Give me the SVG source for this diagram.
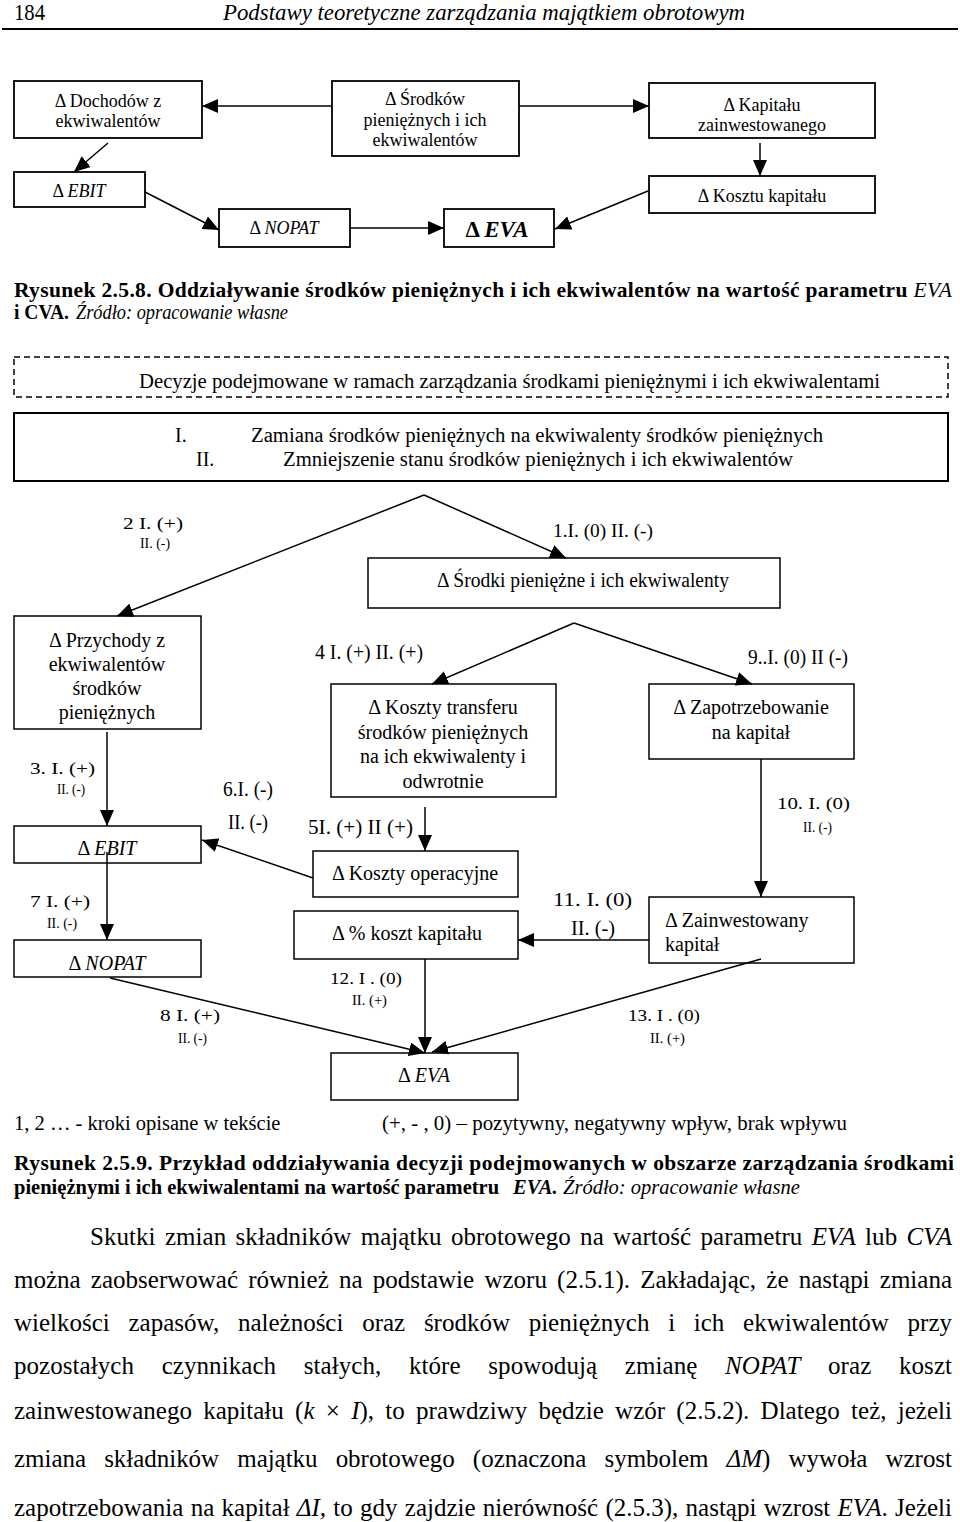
<svg xmlns="http://www.w3.org/2000/svg" width="960" height="1522" viewBox="0 0 960 1522">
<defs>
<marker id="ah" markerUnits="userSpaceOnUse" markerWidth="16" markerHeight="14" refX="16" refY="7" orient="auto"><path d="M0,0 L16,7 L0,14 z" fill="#000"/></marker>
</defs>
<style>
text{font-family:'Liberation Serif','Times New Roman',serif;fill:#000}
.box{fill:#fff;stroke:#000;stroke-width:1.8}
.bx2{fill:#fff;stroke:#000;stroke-width:1.5}
.c{fill:none;stroke:#000;stroke-width:1.5;marker-end:url(#ah)}
.d1{font-size:18px;text-anchor:middle}
.d2{font-size:20px;text-anchor:middle}
.l2{font-size:20px}
.lb{font-size:17px}
.ls{font-size:15px}
.lg{font-size:19.5px}
.i{font-style:italic}
.b{font-weight:bold}
.cap{font-size:21.5px}
.cap2{font-size:20.5px}
.p{font-size:25px}
</style>
<rect width="960" height="1522" fill="#fff"/>

<g id="header">
<text x="14" y="20" font-size="24" textLength="31" lengthAdjust="spacingAndGlyphs">184</text>
<text x="223" y="20" font-size="24" class="i" textLength="522" lengthAdjust="spacingAndGlyphs">Podstawy teoretyczne zarządzania majątkiem obrotowym</text>
<line x1="2" y1="29" x2="958" y2="29" stroke="#000" stroke-width="2"/>
</g>

<!-- Figure 2.5.8 -->
<g id="n-dochodow"><rect class="box" x="14" y="81" width="188" height="57"/>
<text class="d1" x="108" y="107">Δ Dochodów z</text><text class="d1" x="108" y="127">ekwiwalentów</text></g>
<g id="n-srodkow"><rect class="box" x="332" y="81" width="187" height="75"/>
<text class="d1" x="425" y="105">Δ Środków</text><text class="d1" x="425" y="126">pieniężnych i ich</text><text class="d1" x="425" y="146">ekwiwalentów</text></g>
<g id="n-kapitalu"><rect class="box" x="649" y="83" width="226" height="55"/>
<text class="d1" x="762" y="111">Δ Kapitału</text><text class="d1" x="762" y="131">zainwestowanego</text></g>
<g id="n-ebit1"><rect class="box" x="14" y="172" width="131" height="35"/>
<text class="d1" x="79" y="197">Δ <tspan class="i">EBIT</tspan></text></g>
<g id="n-nopat1"><rect class="box" x="219" y="209" width="131" height="38"/>
<text class="d1" x="284" y="234">Δ <tspan class="i">NOPAT</tspan></text></g>
<g id="n-eva1"><rect class="box" x="444" y="209" width="110" height="38"/>
<text x="497" y="237" font-size="23" class="b" text-anchor="middle">Δ <tspan class="i">EVA</tspan></text></g>
<g id="n-kosztu"><rect class="box" x="649" y="176" width="226" height="37"/>
<text class="d1" x="762" y="202">Δ Kosztu kapitału</text></g>

<g id="connectors1">
<path class="c" d="M332,106 L202,106"/>
<path class="c" d="M519,106 L649,106"/>
<path class="c" d="M108,143 L74,172"/>
<path class="c" d="M760,143 L760,176"/>
<path class="c" d="M145,192 L219,230"/>
<path class="c" d="M350,228 L444,228"/>
<path class="c" d="M648,191 L555,229"/>
</g>

<g id="caption1">
<text class="cap" x="14" y="297" textLength="938" lengthAdjust="spacing"><tspan class="b">Rysunek 2.5.8. Oddziaływanie środków pieniężnych i ich ekwiwalentów na wartość parametru </tspan><tspan class="i">EVA</tspan></text>
<text class="cap b" x="14" y="319" textLength="55" lengthAdjust="spacingAndGlyphs">i CVA.</text>
<text class="cap i" x="76" y="319" textLength="212" lengthAdjust="spacingAndGlyphs">Źródło: opracowanie własne</text>
</g>

<!-- Figure 2.5.9 -->
<g id="n-decyzje"><rect x="14" y="357" width="934" height="40" fill="none" stroke="#000" stroke-width="1.5" stroke-dasharray="6,4"/>
<text x="139" y="388" font-size="20.5" textLength="741" lengthAdjust="spacingAndGlyphs">Decyzje podejmowane w ramach zarządzania środkami pieniężnymi i ich ekwiwalentami</text></g>
<g id="n-warianty"><rect x="14" y="413" width="934" height="68" fill="#fff" stroke="#000" stroke-width="2"/>
<text x="175" y="442" font-size="20">I.</text>
<text x="251" y="442" font-size="20" textLength="572" lengthAdjust="spacingAndGlyphs">Zamiana środków pieniężnych na ekwiwalenty środków pieniężnych</text>
<text x="196" y="466" font-size="20">II.</text>
<text x="283" y="466" font-size="20" textLength="510" lengthAdjust="spacingAndGlyphs">Zmniejszenie stanu środków pieniężnych i ich ekwiwalentów</text></g>

<g id="n-srodki"><rect class="bx2" x="368" y="558" width="412" height="50"/>
<text class="d2" x="583" y="587" textLength="292" lengthAdjust="spacingAndGlyphs">Δ Środki pieniężne i ich ekwiwalenty</text></g>
<g id="n-przychody"><rect class="bx2" x="14" y="616" width="187" height="113"/>
<text class="d2" x="107" y="647">Δ Przychody z</text><text class="d2" x="107" y="671">ekwiwalentów</text><text class="d2" x="107" y="695">środków</text><text class="d2" x="107" y="719">pieniężnych</text></g>
<g id="n-transfer"><rect class="bx2" x="331" y="684" width="225" height="113"/>
<text class="d2" x="443" y="714">Δ Koszty transferu</text><text class="d2" x="443" y="739">środków pieniężnych</text><text class="d2" x="443" y="763">na ich ekwiwalenty i</text><text class="d2" x="443" y="788">odwrotnie</text></g>
<g id="n-zapotrzebowanie"><rect class="bx2" x="649" y="684" width="205" height="75"/>
<text class="d2" x="751" y="714">Δ Zapotrzebowanie</text><text class="d2" x="751" y="739">na kapitał</text></g>
<g id="n-ebit2"><rect class="bx2" x="14" y="826" width="187" height="37"/>
<text class="d2" x="107" y="855">Δ <tspan class="i">EBIT</tspan></text></g>
<g id="n-operacyjne"><rect class="bx2" x="313" y="851" width="205" height="46"/>
<text class="d2" x="415" y="880">Δ Koszty operacyjne</text></g>
<g id="n-proc"><rect class="bx2" x="294" y="911" width="224" height="48"/>
<text class="d2" x="407" y="940">Δ % koszt kapitału</text></g>
<g id="n-zainwestowany"><rect class="bx2" x="649" y="897" width="205" height="66"/>
<text class="l2" x="665" y="927">Δ Zainwestowany</text><text class="l2" x="665" y="951">kapitał</text></g>
<g id="n-nopat2"><rect class="bx2" x="14" y="940" width="187" height="37"/>
<text class="d2" x="107" y="970">Δ <tspan class="i">NOPAT</tspan></text></g>
<g id="n-eva2"><rect class="bx2" x="331" y="1053" width="187" height="47"/>
<text class="d2" x="424" y="1082">Δ <tspan class="i">EVA</tspan></text></g>

<g id="connectors2">
<path class="c" d="M424,495 L117,616"/>
<path class="c" d="M424,495 L566,558"/>
<path class="c" d="M574,623 L432,684"/>
<path class="c" d="M574,623 L752,684"/>
<path class="c" d="M107,732 L107,826"/>
<path class="c" d="M107,852 L107,940"/>
<path class="c" d="M425,807 L425,851"/>
<path class="c" d="M313,878 L202,840"/>
<path class="c" d="M110,978 L425,1053"/>
<path class="c" d="M425,959 L425,1053"/>
<path class="c" d="M761,959 L432,1052"/>
<path class="c" d="M761,759 L761,897"/>
<path class="c" d="M649,940 L518,940"/>
</g>

<g id="labels">
<text class="lb" x="123" y="529" textLength="60" lengthAdjust="spacingAndGlyphs">2 I.  (+)</text>
<text class="ls" x="140" y="548" textLength="30" lengthAdjust="spacingAndGlyphs">II. (-)</text>
<text class="lg" x="553" y="537" textLength="100" lengthAdjust="spacingAndGlyphs">1.I. (0) II. (-)</text>
<text class="lb" x="30" y="774" textLength="65" lengthAdjust="spacingAndGlyphs">3. I.  (+)</text>
<text class="ls" x="57" y="794" textLength="28" lengthAdjust="spacingAndGlyphs">II. (-)</text>
<text class="l2" x="315" y="659" textLength="108" lengthAdjust="spacingAndGlyphs">4 I. (+) II. (+)</text>
<text class="l2" x="308" y="834" textLength="105" lengthAdjust="spacingAndGlyphs">5I. (+) II (+)</text>
<text class="l2" x="223" y="796" textLength="50" lengthAdjust="spacingAndGlyphs">6.I. (-)</text>
<text class="l2" x="228" y="829" textLength="40" lengthAdjust="spacingAndGlyphs">II. (-)</text>
<text class="lb" x="30" y="907" textLength="60" lengthAdjust="spacingAndGlyphs">7 I.  (+)</text>
<text class="ls" x="47" y="928" textLength="30" lengthAdjust="spacingAndGlyphs">II. (-)</text>
<text class="lb" x="160" y="1021" textLength="60" lengthAdjust="spacingAndGlyphs">8 I.  (+)</text>
<text class="ls" x="178" y="1043" textLength="29" lengthAdjust="spacingAndGlyphs">II. (-)</text>
<text class="l2" x="748" y="664" textLength="100" lengthAdjust="spacingAndGlyphs">9..I. (0) II (-)</text>
<text class="lb" x="777" y="809" textLength="73" lengthAdjust="spacingAndGlyphs">10. I.  (0)</text>
<text class="ls" x="803" y="832" textLength="29" lengthAdjust="spacingAndGlyphs">II. (-)</text>
<text class="lg" x="553" y="906" textLength="79" lengthAdjust="spacingAndGlyphs">11. I. (0)</text>
<text class="l2" x="571" y="935" textLength="44" lengthAdjust="spacingAndGlyphs">II. (-)</text>
<text class="lb" x="330" y="984" textLength="72" lengthAdjust="spacingAndGlyphs">12. I . (0)</text>
<text class="ls" x="352" y="1005" textLength="35" lengthAdjust="spacingAndGlyphs">II. (+)</text>
<text class="lb" x="628" y="1021" textLength="72" lengthAdjust="spacingAndGlyphs">13. I . (0)</text>
<text class="ls" x="650" y="1043" textLength="35" lengthAdjust="spacingAndGlyphs">II. (+)</text>
</g>

<g id="legend">
<text x="14" y="1130" font-size="20.5">1, 2 … - kroki opisane w tekście</text>
<text x="382" y="1130" font-size="20.5" textLength="465" lengthAdjust="spacingAndGlyphs">(+, - , 0) – pozytywny, negatywny wpływ, brak wpływu</text>
</g>

<g id="caption2">
<text class="cap" x="14" y="1170" textLength="940" lengthAdjust="spacing"><tspan class="b">Rysunek 2.5.9. Przykład oddziaływania decyzji podejmowanych w obszarze zarządzania środkami</tspan></text>
<text class="cap2 b" x="14" y="1194">pieniężnymi i ich ekwiwalentami na wartość parametru</text>
<text class="cap2 b i" x="513" y="1194">EVA.</text>
<text class="cap2 i" x="563" y="1194">Źródło: opracowanie własne</text>
</g>

<g id="paragraph">
<text class="p" x="90" y="1245" word-spacing="3" textLength="862" lengthAdjust="spacing">Skutki zmian składników majątku obrotowego na wartość parametru <tspan class="i">EVA</tspan> lub <tspan class="i">CVA</tspan></text>
<text class="p" x="14" y="1288" word-spacing="4" textLength="938" lengthAdjust="spacing">można zaobserwować również na podstawie wzoru (2.5.1). Zakładając, że nastąpi zmiana</text>
<text class="p" x="14" y="1331" word-spacing="12.5" textLength="938" lengthAdjust="spacing">wielkości zapasów, należności oraz środków pieniężnych i ich ekwiwalentów przy</text>
<text class="p" x="14" y="1374" word-spacing="21.4" textLength="938" lengthAdjust="spacing">pozostałych czynnikach stałych, które spowodują zmianę <tspan class="i">NOPAT</tspan> oraz koszt</text>
<text class="p" x="14" y="1419" word-spacing="5" textLength="938" lengthAdjust="spacing">zainwestowanego kapitału (<tspan class="i">k</tspan> × <tspan class="i">I</tspan>), to prawdziwy będzie wzór (2.5.2). Dlatego też, jeżeli</text>
<text class="p" x="14" y="1467" word-spacing="11.9" textLength="938" lengthAdjust="spacing">zmiana składników majątku obrotowego (oznaczona symbolem <tspan class="i">ΔM</tspan>) wywoła wzrost</text>
<text class="p" x="14" y="1516" word-spacing="1" textLength="938" lengthAdjust="spacing">zapotrzebowania na kapitał <tspan class="i">ΔI,</tspan> to gdy zajdzie nierówność (2.5.3), nastąpi wzrost <tspan class="i">EVA</tspan>. Jeżeli</text>
</g>
</svg>
